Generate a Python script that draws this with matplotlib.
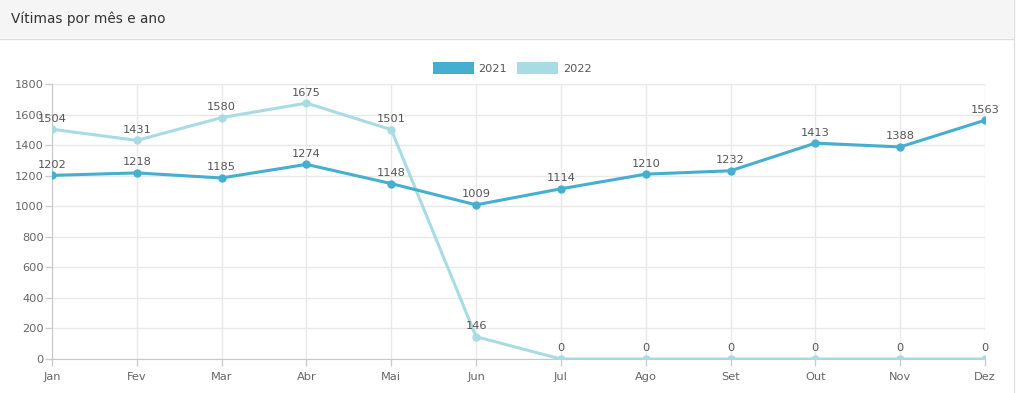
import matplotlib.pyplot as plt
from matplotlib.patches import Rectangle, Patch
from matplotlib.lines import Line2D

months = ['Jan', 'Fev', 'Mar', 'Abr', 'Mai', 'Jun', 'Jul', 'Ago', 'Set', 'Out', 'Nov', 'Dez']
v2021 = [1202, 1218, 1185, 1274, 1148, 1009, 1114, 1210, 1232, 1413, 1388, 1563]
v2022 = [1504, 1431, 1580, 1675, 1501, 146, 0, 0, 0, 0, 0, 0]

c2021 = '#46afcf'
c2022 = '#a8dce4'
W, H = 1024, 393

fig = plt.figure(figsize=(W / 100, H / 100), dpi=100)
fig.patch.set_facecolor('white')

# header band of the panel
fig.patches.append(Rectangle((0, 1 - 38 / H), 1013 / W, 38 / H, transform=fig.transFigure,
                             facecolor='#f5f5f5', edgecolor='none', zorder=0))
fig.lines.append(Line2D([0, 1013 / W], [1 - 38.5 / H] * 2, transform=fig.transFigure,
                        color='#dddddd', lw=1))
fig.lines.append(Line2D([1013.5 / W] * 2, [0, 1], transform=fig.transFigure,
                        color='#e0e0e0', lw=1))
fig.text(11 / W, 1 - 19 / H, 'Vítimas por mês e ano', fontsize=9.8, color='#333333',
         va='center', ha='left')

ax = fig.add_axes([52 / W, 34 / H, (985 - 52) / W, (359 - 84) / H])
x = list(range(len(months)))

ax.plot(x, v2022, color=c2022, lw=2.2, marker='o', ms=5, zorder=3)
ax.plot(x, v2021, color=c2021, lw=2.2, marker='o', ms=5, zorder=4)

# value labels above each point
for xi, v in zip(x, v2021):
    ax.annotate(str(v), (xi, v), xytext=(0, 4), textcoords='offset points',
                ha='center', va='bottom', fontsize=8.2, color='#555555')
for xi, v in zip(x, v2022):
    ax.annotate(str(v), (xi, v), xytext=(0, 4), textcoords='offset points',
                ha='center', va='bottom', fontsize=8.2, color='#555555')

ax.set_xlim(0, 11)
ax.set_ylim(0, 1800)
ax.set_xticks(x)
ax.set_xticklabels(months)
ax.set_yticks(range(0, 1801, 200))
ax.tick_params(colors='#cccccc', labelcolor='#666666', labelsize=8.2, length=5, width=1)
ax.tick_params(axis='x', pad=4)
ax.tick_params(axis='y', pad=1)
ax.grid(True, color='#e8e8e8', lw=1)
ax.set_axisbelow(True)
for s in ['top', 'right']:
    ax.spines[s].set_visible(False)
for s in ['left', 'bottom']:
    ax.spines[s].set_color('#c8c8c8')

handles = [Patch(facecolor=c2021, edgecolor='none', label='2021'),
           Patch(facecolor=c2022, edgecolor='none', label='2022')]
fig.legend(handles=handles, loc='center', bbox_to_anchor=(0.5, 1 - 68 / H), ncol=2,
           frameon=False, fontsize=8.2, handlelength=3.6, handleheight=1.15,
           handletextpad=0.4, columnspacing=0.9, labelcolor='#555555')

fig.savefig('out.png', dpi=100)
